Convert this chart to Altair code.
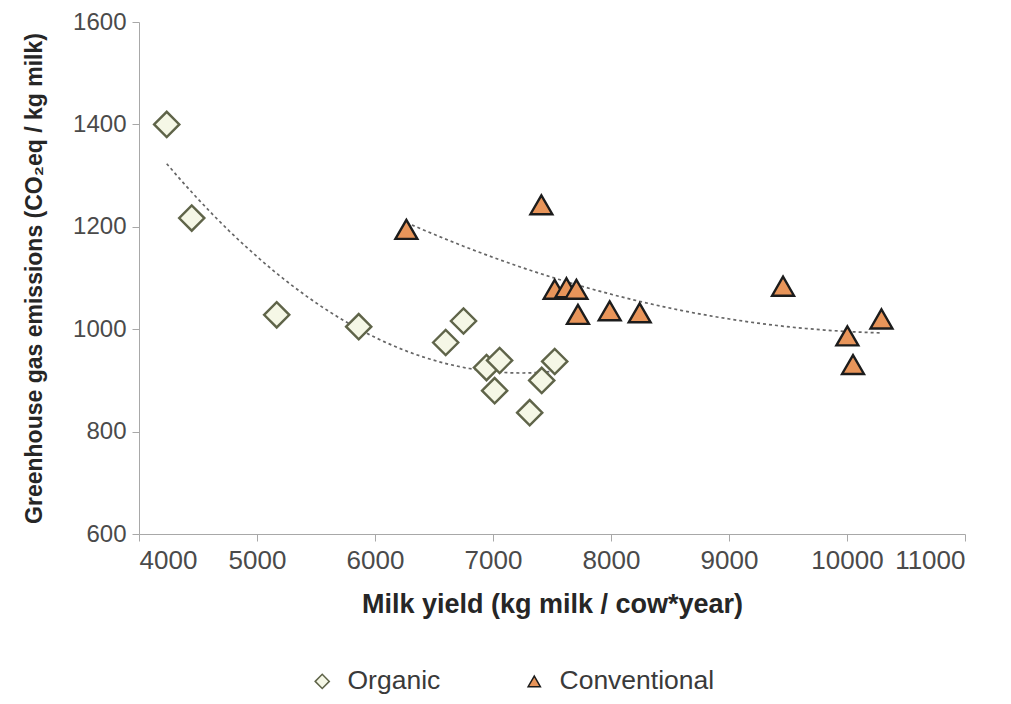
import altair as alt
import pandas as pd

# Organic farms
org_x = [4235, 4447, 5167, 5862, 6599, 6750, 6945, 7056, 7014, 7311, 7413, 7523]
org_y = [1400, 1217, 1028, 1005, 974, 1016, 925, 939, 880, 837, 900, 937]
# Conventional farms
con_x = [6266, 7410, 7523, 7622, 7707, 7720, 7989, 8243, 9458, 10003, 10051, 10292]
con_y = [1195, 1243, 1078, 1081, 1078, 1029, 1036, 1032, 1084, 987, 931, 1020]

groups = ["Organic", "Conventional"]
x_ticks = [4000, 5000, 6000, 7000, 8000, 9000, 10000, 11000]
y_ticks = [600, 800, 1000, 1200, 1400, 1600]

df = pd.DataFrame({
    "yield": org_x + con_x,
    "ghg": org_y + con_y,
    "group": ["Organic"] * len(org_x) + ["Conventional"] * len(con_x),
})

FONT = "Liberation Sans"
DIAMOND = "M-1.15,0L0,-1.15L1.15,0L0,1.15Z"

x_enc = alt.X("yield:Q", scale=alt.Scale(domain=[4000, 11000], nice=False, zero=False),
              axis=alt.Axis(values=x_ticks, format="d", title="Milk yield (kg milk / cow*year)",
                            titlePadding=18, titleFontSize=27, labelFontSize=26))
y_enc = alt.Y("ghg:Q", scale=alt.Scale(domain=[600, 1600], nice=False, zero=False),
              axis=alt.Axis(values=y_ticks, format="d",
                            title="Greenhouse gas emissions (CO₂eq / kg milk)",
                            titlePadding=26, titleFontSize=23, labelFontSize=24))

trend = alt.Chart(df).transform_regression(
    "yield", "ghg", groupby=["group"], method="poly", order=2
).mark_line(strokeDash=[3, 3], color="#666666", strokeWidth=1.7).encode(
    x=x_enc, y=y_enc, detail="group:N"
)

points = alt.Chart(df).mark_point(filled=False, size=480, strokeWidth=2.4, opacity=1).encode(
    x=x_enc,
    y=y_enc,
    shape=alt.Shape("group:N", scale=alt.Scale(domain=groups, range=[DIAMOND, "triangle-up"]),
                    legend=alt.Legend(title=None)),
    fill=alt.Fill("group:N", scale=alt.Scale(domain=groups, range=["#f5f7e6", "#e8955a"]),
                  legend=alt.Legend(title=None)),
    stroke=alt.Stroke("group:N", scale=alt.Scale(domain=groups, range=["#5f6449", "#1c1c1c"]),
                      legend=alt.Legend(title=None)),
)

chart = alt.layer(trend, points).properties(
    width=826, height=512,
    autosize=alt.AutoSizeParams(type="none"),
    padding={"left": 131, "top": 14, "right": 30, "bottom": 168},
).configure_view(stroke=None).configure_axis(
    grid=False,
    domainColor="#a8a8a8",
    tickColor="#a8a8a8",
    tickSize=7,
    labelFont=FONT,
    labelColor="#4a4a4a",
    labelPadding=6,
    titleFont=FONT,
    titleFontWeight="bold",
    titleColor="#262626",
).configure_legend(
    orient="none",
    legendX=170,
    legendY=646,
    direction="horizontal",
    labelFont=FONT,
    labelFontSize=26.5,
    labelColor="#3a3a3a",
    symbolSize=150,
    symbolStrokeWidth=1.5,
    labelOffset=12,
    columnPadding=80,
)

chart.save("out.html", embed_options={"renderer": "svg", "actions": False})
